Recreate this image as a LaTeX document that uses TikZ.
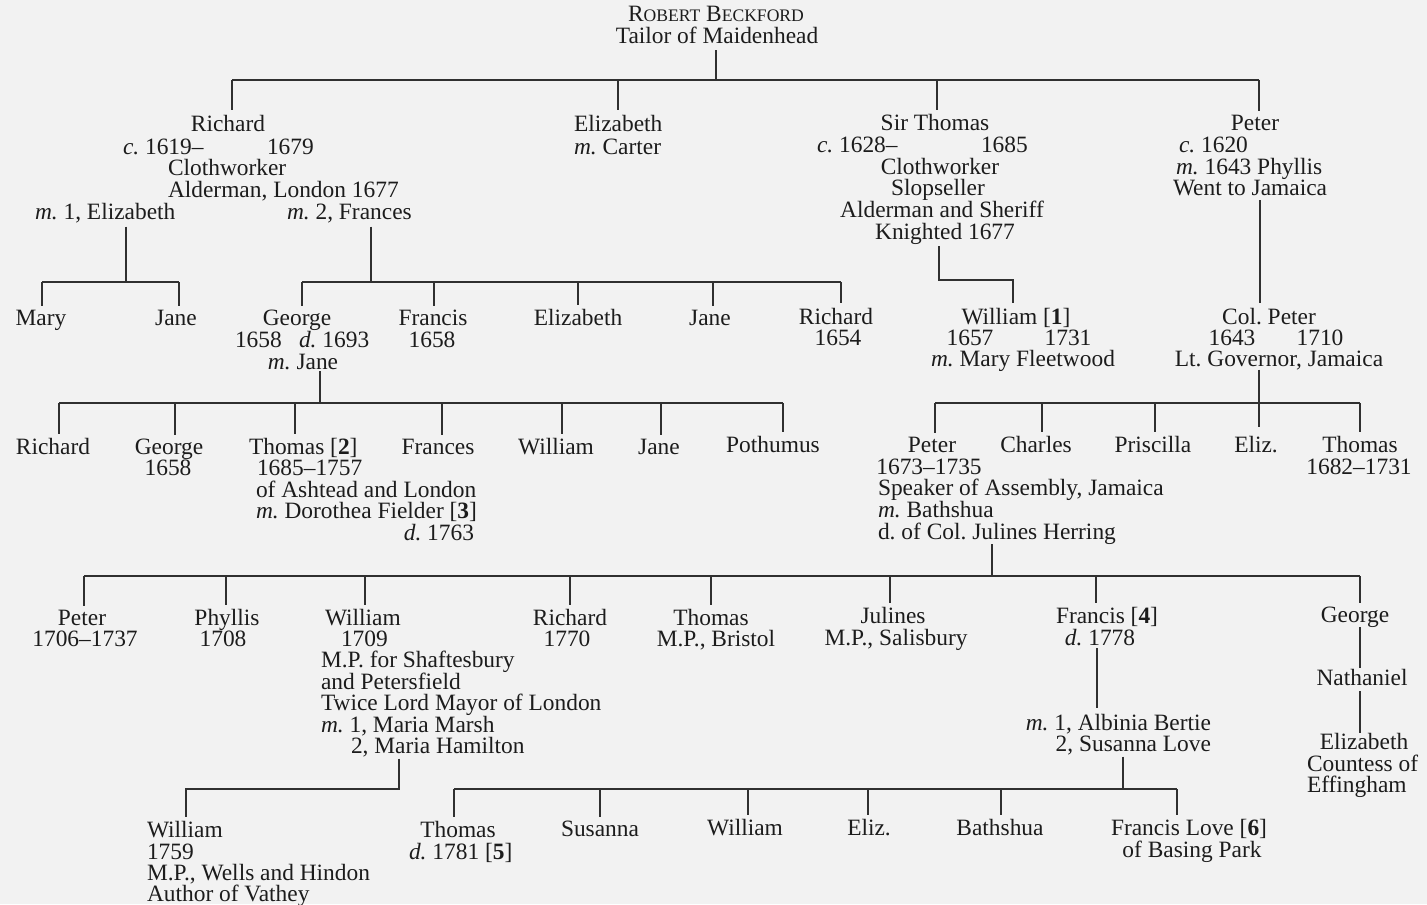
\documentclass[tikz,border=0pt]{standalone}
\usepackage{fontspec}
\setmainfont{Liberation Serif}
\usetikzlibrary{calc}
\definecolor{bg}{HTML}{F2F2F2}
\definecolor{ink}{HTML}{1C1C1C}
\definecolor{linec}{HTML}{303030}
\newcommand{\fs}{\fontsize{11.7pt}{13pt}\selectfont\frenchspacing}
\newcommand{\smc}[1]{{\fontsize{8.8pt}{10pt}\selectfont #1}}
\begin{document}
\begin{tikzpicture}[x=0.5pt,y=-0.5pt,
  tx/.style={inner sep=0pt,outer sep=0pt,anchor=base,font=\fs,text=ink},
  lx/.style={tx,anchor=base west},
  rx/.style={tx,anchor=base east},
  ln/.style={draw=linec,line width=0.8pt},
  dn/.style={ln,shorten >=2pt},
  up/.style={ln,shorten <=2pt},
]
\fill[bg] (0,0) rectangle (1427,904);
\useasboundingbox (0,0) rectangle (1427,904);

% ---------- generation 1
\node[tx] (robert) at (716,22) {R\smc{OBERT} B\smc{ECKFORD}};
\node[tx] (tailor) at (717,44) {Tailor of Maidenhead};

% ---------- generation 2
\node[tx] (richard) at (228,132) {Richard};
\node[lx] (richardb) at (123,154) {\textit{c.} 1619--};
\node[lx] (richardd) at (267,154) {1679};
\node[lx] (richardc) at (168,175) {Clothworker};
\node[lx] (richarda) at (168,197) {Alderman, London 1677};
\node[lx] (richardm1) at (35,219) {\textit{m.} 1, Elizabeth};
\node[lx] (richardm2) at (287,219) {\textit{m.} 2, Frances};

\node[lx] (elizabeth) at (574,132) {Elizabeth};
\node[lx] (elizabethm) at (574,154) {\textit{m.} Carter};

\node[tx] (thomas) at (935,130) {Sir Thomas};
\node[lx] (thomasb) at (817,152) {\textit{c.} 1628--};
\node[lx] (thomasd) at (981,152) {1685};
\node[tx] (thomasc) at (940,174) {Clothworker};
\node[tx] (thomass) at (938,195) {Slopseller};
\node[tx] (thomasa) at (942,217) {Alderman and Sheriff};
\node[tx] (thomask) at (945,239) {Knighted 1677};

\node[tx] (peter) at (1255,130) {Peter};
\node[lx] (peterb) at (1179,152) {\textit{c.} 1620};
\node[lx] (peterm) at (1176,174) {\textit{m.} 1643 Phyllis};
\node[lx] (peterw) at (1173,195) {Went to Jamaica};

% ---------- generation 3
\node[tx] (mary) at (41,325) {Mary};
\node[tx] (jane) at (176,325) {Jane};
\node[tx] (george) at (297,325) {George};
\node[lx] (georgeb) at (235,347) {1658};
\node[lx] (georged) at (299,347) {\textit{d.} 1693};
\node[tx] (georgem) at (303,369) {\textit{m.} Jane};
\node[tx] (francis) at (433,325) {Francis};
\node[tx] (francisb) at (432,347) {1658};
\node[tx] (elizabeth2) at (578,325) {Elizabeth};
\node[tx] (jane2) at (710,325) {Jane};
\node[tx] (richard2) at (836,324) {Richard};
\node[tx] (richard2b) at (838,345) {1654};

\node[tx] (william) at (1016,324) {William [\textbf{1}]};
\node[tx] (williamb) at (970,345) {1657};
\node[tx] (williamd) at (1068,345) {1731};
\node[tx] (williamm) at (1023,366) {\textit{m.} Mary Fleetwood};

\node[tx] (colpeter) at (1269,324) {Col. Peter};
\node[tx] (colpeterb) at (1232,345) {1643};
\node[tx] (colpeterd) at (1320,345) {1710};
\node[tx] (colpeterl) at (1279,366) {Lt. Governor, Jamaica};

% ---------- generation 4
\node[tx] (richard3) at (53,454) {Richard};
\node[tx] (george3) at (169,454) {George};
\node[tx] (george3b) at (168,475) {1658};
\node[lx] (thomas2) at (249,454) {Thomas [\textbf{2}]};
\node[lx] (thomas2b) at (257,475) {1685--1757};
\node[lx] (thomas2a) at (256,497) {of Ashtead and London};
\node[lx] (thomas2m) at (256,518) {\textit{m.} Dorothea Fielder [\textbf{3}]};
\node[rx] (thomas2d) at (474,540) {\textit{d.} 1763};
\node[tx] (frances) at (438,454) {Frances};
\node[tx] (william3) at (556,454) {William};
\node[tx] (jane3) at (659,454) {Jane};
\node[tx] (pothumus) at (773,452) {Pothumus};

\node[tx] (peter2) at (932,452) {Peter};
\node[tx] (peter2b) at (929,474) {1673--1735};
\node[lx] (peter2s) at (878,495) {Speaker of Assembly, Jamaica};
\node[lx] (peter2m) at (878,517) {\textit{m.} Bathshua};
\node[lx] (peter2h) at (878,539) {d. of Col. Julines Herring};
\node[tx] (charles) at (1036,452) {Charles};
\node[tx] (priscilla) at (1153,452) {Priscilla};
\node[tx] (eliz) at (1256,452) {Eliz.};
\node[tx] (thomas3) at (1360,452) {Thomas};
\node[tx] (thomas3b) at (1359,474) {1682--1731};

% ---------- generation 5
\node[tx] (peter3) at (82,625) {Peter};
\node[tx] (peter3b) at (85,646) {1706--1737};
\node[tx] (phyllis) at (227,625) {Phyllis};
\node[tx] (phyllisb) at (223,646) {1708};
\node[lx] (william4) at (325,625) {William};
\node[lx] (william4b) at (341,646) {1709};
\node[lx] (william4s) at (321,667) {M.P. for Shaftesbury};
\node[lx] (william4p) at (321,689) {and Petersfield};
\node[lx] (william4t) at (321,710) {Twice Lord Mayor of London};
\node[lx] (william4m) at (321,732) {\textit{m.} 1, Maria Marsh};
\node[lx] (william4h) at (351,753) {2, Maria Hamilton};
\node[tx] (richard4) at (570,625) {Richard};
\node[tx] (richard4b) at (567,646) {1770};
\node[tx] (thomas4) at (711,625) {Thomas};
\node[tx] (thomas4b) at (716,646) {M.P., Bristol};
\node[tx] (julines) at (893,623) {Julines};
\node[tx] (julinesb) at (896,645) {M.P., Salisbury};
\node[tx] (francis4) at (1107,623) {Francis [\textbf{4}]};
\node[tx] (francis4d) at (1100,645) {\textit{d.} 1778};
\node[rx] (francis4m) at (1211,730) {\textit{m.} 1, Albinia Bertie};
\node[rx] (francis4s) at (1211,751) {2, Susanna Love};
\node[tx] (george4) at (1355,622) {George};
\node[tx] (nathaniel) at (1362,685) {Nathaniel};
\node[tx] (elizabeth4) at (1364,749) {Elizabeth};
\node[lx] (countess) at (1307,771) {Countess of};
\node[lx] (effingham) at (1307,792) {Effingham};

% ---------- generation 6
\node[lx] (william5) at (147,837) {William};
\node[lx] (william5b) at (147,859) {1759};
\node[lx] (william5m) at (147,880) {M.P., Wells and Hindon};
\node[lx] (william5a) at (147,901) {Author of Vathey};
\node[tx] (thomas5) at (458,837) {Thomas};
\node[lx] (thomas5d) at (409,859) {\textit{d.} 1781 [\textbf{5}]};
\node[tx] (susanna) at (600,836) {Susanna};
\node[tx] (william6) at (745,835) {William};
\node[tx] (eliz6) at (869,835) {Eliz.};
\node[tx] (bathshua) at (1000,835) {Bathshua};
\node[tx] (francislove) at (1189,835) {Francis Love [\textbf{6}]};
\node[tx] (basing) at (1192,857) {of Basing Park};

% ---------- connectors
% Robert Beckford
\coordinate (j1) at (716,80);
\coordinate (j1a) at (232,80);
\coordinate (j1b) at (618,80);
\coordinate (j1c) at (937,80);
\coordinate (j1d) at (1259,80);
\draw[ln,shorten <=3pt] (j1 |- tailor.south) -- (j1);
\draw[ln] (j1a) -- (j1d);
\draw[ln,shorten >=3pt] (j1a) -- (j1a |- richard.north);
\draw[ln,shorten >=3pt] (j1b) -- (j1b |- elizabeth.north);
\draw[ln,shorten >=2pt] (j1c) -- (j1c |- thomas.north);
\draw[ln,shorten >=2pt] (j1d) -- (j1d |- peter.north);

% Richard, first marriage
\coordinate (j2) at (126,282);
\coordinate (j2a) at (42,282);
\coordinate (j2b) at (179,282);
\draw[up] (j2 |- richardm1.south) -- (j2);
\draw[ln] (j2a) -- (j2b);
\draw[dn] (j2a) -- (j2a |- mary.north);
\draw[dn] (j2b) -- (j2b |- jane.north);

% Richard, second marriage
\coordinate (j3) at (371,282);
\coordinate (j3a) at (302,282);
\coordinate (j3b) at (434,282);
\coordinate (j3c) at (578,282);
\coordinate (j3d) at (713,282);
\coordinate (j3e) at (841,282);
\draw[up] (j3 |- richardm2.south) -- (j3);
\draw[ln] (j3a) -- (j3e);
\draw[dn] (j3a) -- (j3a |- george.north);
\draw[dn] (j3b) -- (j3b |- francis.north);
\draw[dn] (j3c) -- (j3c |- elizabeth2.north);
\draw[dn] (j3d) -- (j3d |- jane2.north);
\draw[ln,shorten >=2.5pt] (j3e) -- (j3e |- richard2.north);

% Sir Thomas
\coordinate (j4) at (939,280);
\coordinate (j4b) at (1013,280);
\draw[ln,shorten <=1pt,shorten >=2.3pt] (j4 |- thomask.south) -- (j4) -- (j4b) -- (j4b |- william.north);

% Peter
\coordinate (j5) at (1260,250);
\draw[ln,shorten <=2.5pt,shorten >=2.5pt] (j5 |- peterw.south) -- (j5 |- colpeter.north);

% George
\coordinate (j6) at (320,403);
\coordinate (j6a) at (59,403);
\coordinate (j6b) at (175,403);
\coordinate (j6c) at (295,403);
\coordinate (j6d) at (442,403);
\coordinate (j6e) at (562,403);
\coordinate (j6f) at (661,403);
\coordinate (j6g) at (783,403);
\draw[ln,shorten <=1pt] (j6 |- georgem.south) -- (j6);
\draw[ln] (j6a) -- (j6g);
\draw[dn] (j6a) -- (j6a |- richard3.north);
\draw[dn] (j6b) -- (j6b |- george3.north);
\draw[dn] (j6c) -- (j6c |- thomas2.north);
\draw[dn] (j6d) -- (j6d |- frances.north);
\draw[dn] (j6e) -- (j6e |- william3.north);
\draw[dn] (j6f) -- (j6f |- jane3.north);
\draw[dn] (j6g) -- (j6g |- pothumus.north);

% Col. Peter
\coordinate (j7) at (1259,403);
\coordinate (j7a) at (935,403);
\coordinate (j7b) at (1042,403);
\coordinate (j7c) at (1155,403);
\coordinate (j7d) at (1360,403);
\draw[ln,shorten >=4.5pt] (j7 |- colpeterl.south) -- (j7 |- eliz.north);
\draw[ln] (j7a) -- (j7d);
\draw[dn] (j7a) -- (j7a |- peter2.north);
\draw[dn] (j7b) -- (j7b |- charles.north);
\draw[dn] (j7c) -- (j7c |- priscilla.north);
\draw[dn] (j7d) -- (j7d |- thomas3.north);

% Peter (Speaker)
\coordinate (j8) at (992,576);
\coordinate (j8a) at (84,576);
\coordinate (j8b) at (226,576);
\coordinate (j8c) at (365,576);
\coordinate (j8d) at (570,576);
\coordinate (j8e) at (711,576);
\coordinate (j8f) at (890,576);
\coordinate (j8g) at (1096,576);
\coordinate (j8h) at (1360,576);
\draw[ln] (j8 |- peter2h.south) -- (j8);
\draw[ln] (j8a) -- (j8h);
\draw[dn] (j8a) -- (j8a |- peter3.north);
\draw[dn] (j8b) -- (j8b |- phyllis.north);
\draw[dn] (j8c) -- (j8c |- william4.north);
\draw[dn] (j8d) -- (j8d |- richard4.north);
\draw[dn] (j8e) -- (j8e |- thomas4.north);
\draw[dn] (j8f) -- (j8f |- julines.north);
\draw[dn] (j8g) -- (j8g |- francis4.north);
\draw[dn] (j8h) -- (j8h |- george4.north);

% William (1709)
\coordinate (j9) at (399,789);
\coordinate (j9a) at (186,789);
\draw[ln,shorten <=1pt,shorten >=2pt] (j9 |- william4h.south) -- (j9) -- (j9a) -- (j9a |- william5.north);

% Francis [4]
\coordinate (j10) at (1097,690);
\draw[ln,shorten <=1.5pt,shorten >=3pt] (j10 |- francis4d.south) -- (j10 |- francis4m.north);

% Francis, marriages
\coordinate (j11) at (1123,789);
\coordinate (j11a) at (454,789);
\coordinate (j11b) at (600,789);
\coordinate (j11c) at (748,789);
\coordinate (j11d) at (868,789);
\coordinate (j11e) at (1001,789);
\coordinate (j11f) at (1177,789);
\draw[ln,shorten <=1pt] (j11 |- francis4s.south) -- (j11);
\draw[ln] (j11a) -- (j11f);
\draw[dn] (j11a) -- (j11a |- thomas5.north);
\draw[dn] (j11b) -- (j11b |- susanna.north);
\draw[dn] (j11c) -- (j11c |- william6.north);
\draw[dn] (j11d) -- (j11d |- eliz6.north);
\draw[dn] (j11e) -- (j11e |- bathshua.north);
\draw[dn] (j11f) -- (j11f |- francislove.north);

% George - Nathaniel - Elizabeth
\coordinate (j12) at (1360,700);
\draw[ln,shorten >=0.5pt] (j12 |- george4.south) -- (j12 |- nathaniel.north);
\draw[ln,shorten <=3pt] (j12 |- nathaniel.south) -- (j12 |- elizabeth4.north);
\end{tikzpicture}
\end{document}
